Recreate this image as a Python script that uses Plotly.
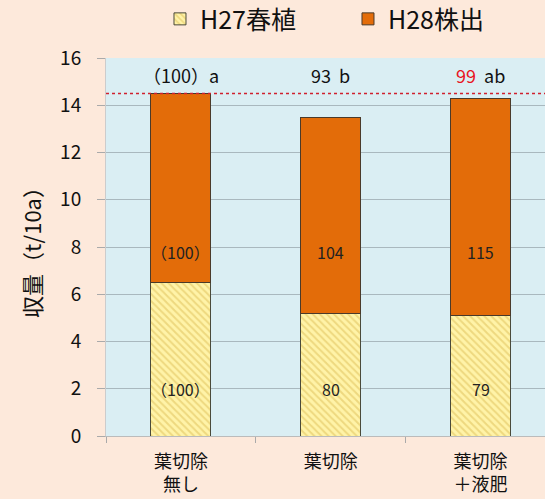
import plotly.graph_objects as go

categories = ["葉切除<br>無し", "葉切除", "葉切除<br>＋液肥"]
h27 = [6.5, 5.2, 5.1]
h28 = [8.0, 8.3, 9.2]
h27_labels = ["（100）", "80", "79"]
h28_labels = ["（100）", "104", "115"]
total_labels = ["（100）a", "93  b", "<span style='color:#E8141E'>99</span>  ab"]
total_label_y = 15.3
h27_label_y = 2.0
h28_label_y = 7.8
ref_line = 14.5
yticks = [0, 2, 4, 6, 8, 10, 12, 14, 16]

font = "Noto Sans CJK JP"

fig = go.Figure()
fig.add_trace(go.Bar(
    x=categories, y=h27, name="H27春植", width=0.4,
    marker=dict(color="#FFF3A8", line=dict(color="#4a4a3a", width=1),
                pattern=dict(shape="\\", fgcolor="#DDBE55", size=5, solidity=0.4)),
))
fig.add_trace(go.Bar(
    x=categories, y=h28, name="H28株出", width=0.4,
    marker=dict(color="#E36C09", line=dict(color="#4a3a2a", width=1)),
))

fig.add_shape(type="line", xref="paper", x0=0, x1=1, y0=ref_line, y1=ref_line,
              line=dict(color="#D0202E", width=1.5, dash="dot"))

for i, c in enumerate(categories):
    fig.add_annotation(x=c, y=h27_label_y, text=h27_labels[i], showarrow=False,
                       font=dict(size=16, color="#222", family=font))
    fig.add_annotation(x=c, y=h28_label_y, text=h28_labels[i], showarrow=False,
                       font=dict(size=16, color="#222", family=font))
    fig.add_annotation(x=c, y=total_label_y, text=total_labels[i], showarrow=False,
                       font=dict(size=18, color="#111", family=font))

fig.update_layout(
    width=545, height=499,
    paper_bgcolor="#FDE9DB", plot_bgcolor="#DAEEF3",
    barmode="stack",
    margin=dict(l=106, r=0, t=58, b=63, autoexpand=False),
    font=dict(family=font, color="#111"),
    legend=dict(orientation="h", x=0.123, xanchor="left", y=1.042, yanchor="bottom",
                font=dict(size=25, family=font), traceorder="normal",
                entrywidth=143, bgcolor="rgba(0,0,0,0)"),
    showlegend=True,
)
fig.update_xaxes(type="category", range=[-0.5, 2.43], showgrid=False, automargin=False,
                 ticks="outside", tickson="boundaries", ticklen=6, tickcolor="#aaa",
                 ticklabelstandoff=9,
                 showline=True, linecolor="#bbb", tickfont=dict(size=18, family=font))
fig.update_yaxes(range=[0, 16], tickvals=yticks, showgrid=True, gridcolor="#A9B8BE",
                 gridwidth=1, ticks="outside", ticklen=8, tickcolor="#aaa", automargin=False,
                 ticklabelstandoff=12,
                 showline=True, linecolor="#ccc", zeroline=False,
                 tickfont=dict(size=19, family=font),
                 title=dict(text="収量（t/10a）", font=dict(size=22, family=font), standoff=12))

fig.write_html("out.html", config={"displayModeBar": False},
               post_script="document.body.style.margin='0';")
